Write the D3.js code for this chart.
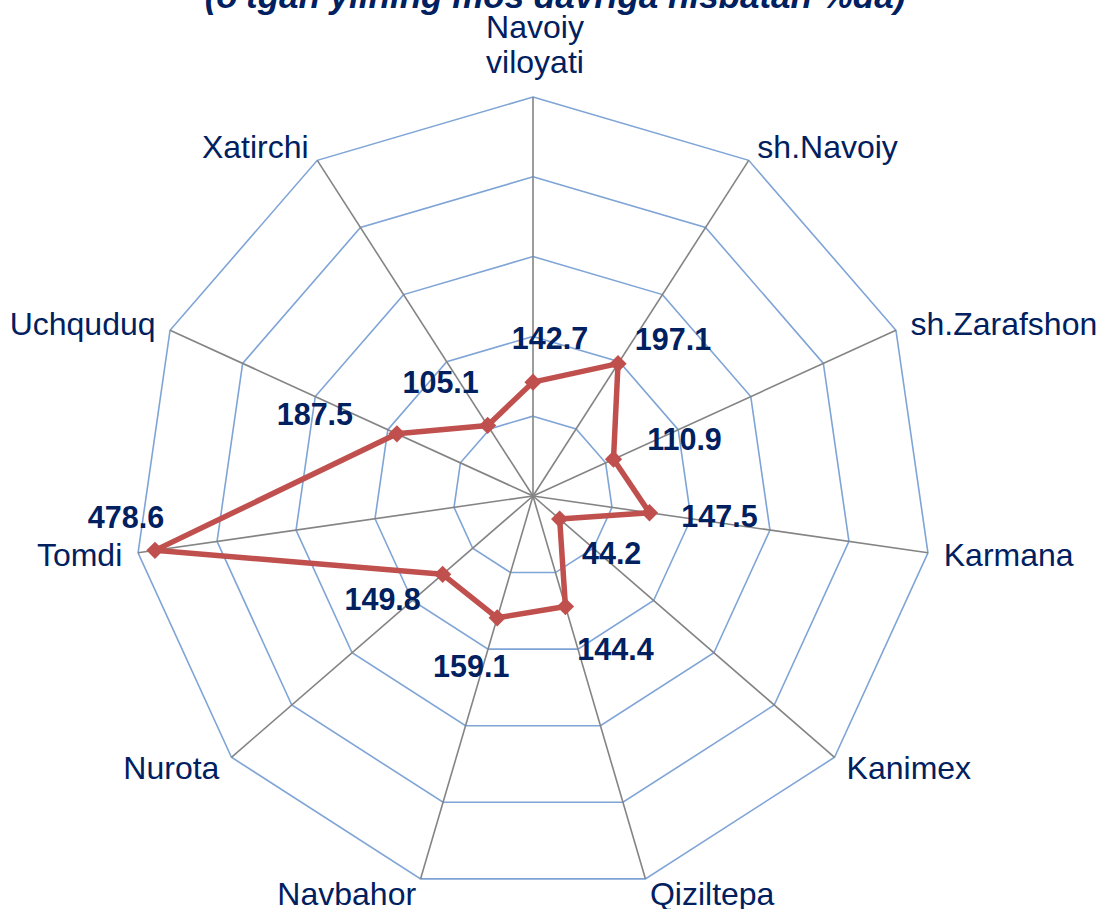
<!DOCTYPE html>
<html>
<head>
<meta charset="utf-8">
<title>Radar</title>
<style>
    body { margin: 0; padding: 0; background: white; }
    text { font-family: "Liberation Sans", Arial, sans-serif; fill: #002060; }
    .ring { fill: none; stroke: #7fa4d6; stroke-width: 1.6; }
    .spoke { stroke: #848484; stroke-width: 1.6; }
</style>
</head>
<body>
<div id="chart"></div>
<script src="https://cdn.jsdelivr.net/npm/d3@7"></script>
<script>
    // categories and values (percent vs same period last year)
    let categories = ["Navoiy viloyati", "sh.Navoiy", "sh.Zarafshon", "Karmana", "Kanimex",
        "Qiziltepa", "Navbahor", "Nurota", "Tomdi", "Uchquduq", "Xatirchi"]
    let values = [142.7, 197.1, 110.9, 147.5, 44.2, 144.4, 159.1, 149.8, 478.6, 187.5, 105.1]
    let ringTicks = [100, 200, 300, 400, 500]
    let titleText = "(o'tgan yilning mos davriga nisbatan %da)"

    // label nudges (dx, dy) from each point, as placed in the original
    let labelNudge = [[17, -44], [55, -25], [71, -20], [70, 3], [52, 34], [50, 42],
        [-26, 48], [-60, 25], [-29, -33], [-82, -20], [-47, -43]]

    let width = 1100, height = 909
    let cx = 533, cy = 496, R = 399

    let svg = d3.select("#chart").append("svg")
        .attr("width", width)
        .attr("height", height)

    let r = d3.scaleLinear().domain([0, 500]).range([0, R])
    let angle = d3.scaleLinear().domain([0, categories.length]).range([0, 2 * Math.PI])

    function pt(i, v) {
        let a = angle(i)
        return [cx + r(v) * Math.sin(a), cy - r(v) * Math.cos(a)]
    }

    // title (cut off at the top in the original)
    svg.append("text")
        .attr("x", 555)
        .attr("y", 8)
        .attr("text-anchor", "middle")
        .attr("font-size", 35)
        .attr("font-weight", "bold")
        .attr("font-style", "italic")
        .text(titleText)

    let grid = svg.append("g")

    grid.selectAll(".ring")
        .data(ringTicks)
        .enter()
        .append("polygon")
        .attr("class", "ring")
        .attr("points", function(t){
            return categories.map(function(c, i){ return pt(i, t).join(",") }).join(" ")
        })

    grid.selectAll(".spoke")
        .data(categories)
        .enter()
        .append("line")
        .attr("class", "spoke")
        .attr("x1", cx)
        .attr("y1", cy)
        .attr("x2", function(d, i){ return pt(i, 500)[0] })
        .attr("y2", function(d, i){ return pt(i, 500)[1] })

    // category labels
    let cats = svg.append("g")
    categories.forEach(function(c, i){
        let p = pt(i, 500 + 20)
        let a = angle(i)
        let sx = Math.sin(a)
        if (i === 0) {
            let words = c.split(" ")
            cats.append("text")
                .attr("x", cx + 2)
                .attr("y", 38)
                .attr("text-anchor", "middle")
                .attr("font-size", 32)
                .text(words[0])
            cats.append("text")
                .attr("x", cx + 2)
                .attr("y", 73)
                .attr("text-anchor", "middle")
                .attr("font-size", 32)
                .text(words[1])
            return
        }
        cats.append("text")
            .attr("x", p[0])
            .attr("y", p[1])
            .attr("text-anchor", sx > 0.05 ? "start" : (sx < -0.05 ? "end" : "middle"))
            .attr("dominant-baseline", "central")
            .attr("font-size", 32)
            .text(c)
    })

    // series
    let line = d3.line()
        .x(function(d, i){ return pt(i, d)[0] })
        .y(function(d, i){ return pt(i, d)[1] })
        .curve(d3.curveLinearClosed)

    svg.append("path")
        .datum(values)
        .attr("d", line)
        .attr("fill", "none")
        .attr("stroke", "#c0504d")
        .attr("stroke-width", 5.5)
        .attr("stroke-linejoin", "round")

    svg.selectAll(".marker")
        .data(values)
        .enter()
        .append("path")
        .attr("class", "marker")
        .attr("d", d3.symbol().type(d3.symbolDiamond2).size(190))
        .attr("transform", function(d, i){
            let p = pt(i, d)
            return "translate(" + p[0] + "," + p[1] + ")"
        })
        .attr("fill", "#c0504d")

    svg.selectAll(".vlabel")
        .data(values)
        .enter()
        .append("text")
        .attr("class", "vlabel")
        .attr("x", function(d, i){ return pt(i, d)[0] + labelNudge[i][0] })
        .attr("y", function(d, i){ return pt(i, d)[1] + labelNudge[i][1] })
        .attr("text-anchor", "middle")
        .attr("dominant-baseline", "central")
        .attr("font-size", 30.5)
        .attr("font-weight", "bold")
        .text(function(d){ return d.toFixed(1) })
</script>
</body>
</html>
